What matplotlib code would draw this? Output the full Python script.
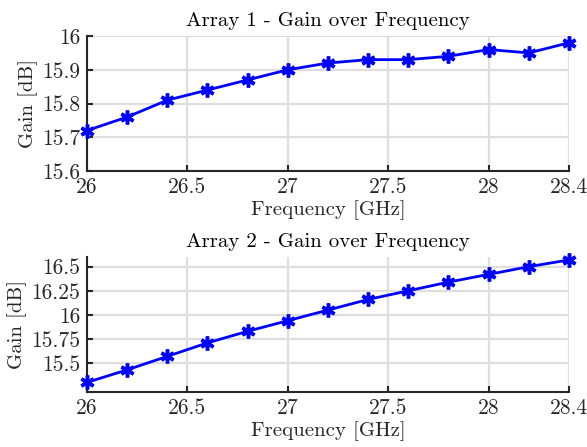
import matplotlib
matplotlib.use('Agg')
import matplotlib.pyplot as plt

plt.rcParams['font.family'] = 'serif'
plt.rcParams['font.serif'] = ['cmr10']
plt.rcParams['mathtext.fontset'] = 'cm'
plt.rcParams['axes.formatter.use_mathtext'] = True

freq = [26.0, 26.2, 26.4, 26.6, 26.8, 27.0, 27.2, 27.4, 27.6, 27.8, 28.0, 28.2, 28.4]
gain1 = [15.72, 15.76, 15.81, 15.84, 15.87, 15.90, 15.92, 15.93, 15.93, 15.94, 15.96, 15.95, 15.98]
gain2 = [15.30, 15.43, 15.57, 15.71, 15.83, 15.94, 16.05, 16.16, 16.25, 16.34, 16.42, 16.50, 16.57]

xticks = [26, 26.5, 27, 27.5, 28, 28.4]
xticklabels = ['26', '26.5', '27', '27.5', '28', '28.4']
yticks1 = [15.6, 15.7, 15.8, 15.9, 16]
yticklabels1 = ['15.6', '15.7', '15.8', '15.9', '16']
yticks2 = [15.5, 15.75, 16, 16.25, 16.5]
yticklabels2 = ['15.5', '15.75', '16', '16.25', '16.5']

fig = plt.figure(figsize=(5.87, 4.47), dpi=100)
ax1 = fig.add_axes([0.1482, 0.6174, 0.8211, 0.302])
ax2 = fig.add_axes([0.1482, 0.1230, 0.8211, 0.302])

def style(ax, y, title, yticks, yticklabels, ylim):
    ax.plot(freq, y, color='#0000ff', linewidth=2, marker=(6, 2, 0),
            markersize=10, markeredgewidth=2.5, zorder=3, clip_on=False)
    ax.set_xlim(26, 28.4)
    ax.set_ylim(*ylim)
    ax.set_xticks(xticks)
    ax.set_xticklabels(xticklabels)
    ax.set_yticks(yticks)
    ax.set_yticklabels(yticklabels)
    ax.grid(True, color='#dedede', linewidth=1.6)
    ax.set_axisbelow(True)
    for s in ['top', 'right']:
        ax.spines[s].set_visible(False)
    for s in ['left', 'bottom']:
        ax.spines[s].set_color('#262626')
        ax.spines[s].set_linewidth(1.5)
    ax.tick_params(direction='in', length=4, width=1.5, color='#262626',
                   labelcolor='#262626', labelsize=15.5, pad=5)
    ax.set_title(title, fontsize=15, pad=7)
    ax.set_xlabel('Frequency [GHz]', fontsize=15, color='#262626', labelpad=2)
    ax.set_ylabel('Gain [dB]', fontsize=15, color='#262626', labelpad=3)

style(ax1, gain1, 'Array 1 - Gain over Frequency', yticks1, yticklabels1, (15.6, 16))
style(ax2, gain2, 'Array 2 - Gain over Frequency', yticks2, yticklabels2, (15.2, 16.6))

fig.savefig('out.png', dpi=100)
